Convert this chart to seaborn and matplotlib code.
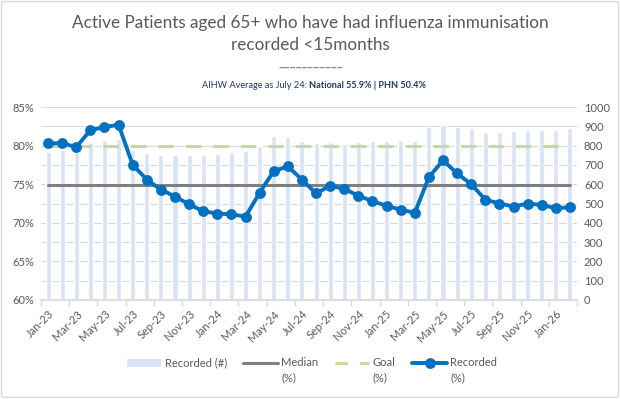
import matplotlib
matplotlib.use("Agg")
import matplotlib.pyplot as plt
import seaborn as sns
import numpy as np
import pandas as pd
from matplotlib.lines import Line2D
from matplotlib.patches import Patch, FancyBboxPatch

# ---------------- data ----------------
months = ["Jan-23", "Feb-23", "Mar-23", "Apr-23", "May-23", "Jun-23", "Jul-23", "Aug-23",
          "Sep-23", "Oct-23", "Nov-23", "Dec-23", "Jan-24", "Feb-24", "Mar-24", "Apr-24",
          "May-24", "Jun-24", "Jul-24", "Aug-24", "Sep-24", "Oct-24", "Nov-24", "Dec-24",
          "Jan-25", "Feb-25", "Mar-25", "Apr-25", "May-25", "Jun-25", "Jul-25", "Aug-25",
          "Sep-25", "Oct-25", "Nov-25", "Dec-25", "Jan-26", "Feb-26"]
recorded_pct = [80.3, 80.3, 79.8, 82.0, 82.4, 82.7, 77.5, 75.6, 74.3, 73.4, 72.4, 71.5,
                71.2, 71.1, 70.8, 73.9, 76.7, 77.3, 75.6, 73.8, 74.8, 74.4, 73.5, 72.8,
                72.2, 71.7, 71.3, 75.9, 78.1, 76.4, 75.0, 73.0, 72.5, 72.1, 72.5, 72.3,
                71.9, 72.0]
recorded_num = [765, 776, 790, 817, 828, 836, 779, 760, 750, 750, 750, 750,
                755, 765, 770, 797, 849, 843, 823, 812, 817, 810, 817, 823,
                823, 831, 826, 896, 906, 896, 889, 870, 870, 875, 880, 883,
                883, 890]
median_pct = 74.9
goal_pct = 80.0
left_ticks = [60, 65, 70, 75, 80, 85]
right_ticks = [0, 100, 200, 300, 400, 500, 600, 700, 800, 900, 1000]

title_l1 = "Active Patients aged 65+ who have had influenza immunisation"
title_l2 = "recorded <15months"
sub_normal = "AIHW Average as July 24: "
sub_bold = "National 55.9% | PHN 50.4%"
legend_main = ["Recorded (#)", "Median", "Goal", "Recorded"]
legend_unit = "(%)"

# ---------------- style ----------------
sns.set_theme(style="white")
plt.rcParams["font.family"] = ["Lato", "DejaVu Sans"]

BAR_C = "#DAE3F3"
LINE_C = "#0070C0"
MED_C = "#7F7F7F"
GOAL_C = "#C5D9A0"
TXT_C = "#595959"
GRID_C = "#D9D9D9"

fig = plt.figure(figsize=(6.2, 3.99), dpi=100)
W, H = 620, 399

ax = fig.add_axes([41 / W, 1 - 300 / H, (577 - 41) / W, (300 - 107) / H])
ax2 = ax.twinx()

n = len(months)
idx = np.arange(n)
df = pd.DataFrame({"idx": idx, "month": months, "pct": recorded_pct, "num": recorded_num,
                   "median": [median_pct] * n, "goal": [goal_pct] * n})

# bars on primary axis (drawn behind), right-side ticks
sns.barplot(data=df, x="idx", y="num", ax=ax, color=BAR_C, width=0.36,
            saturation=1, native_scale=True, zorder=2)
ax.set_ylim(0, 1000)
ax.set_yticks(right_ticks)
ax.yaxis.tick_right()
ax.yaxis.set_label_position("right")
ax.grid(axis="y", color=GRID_C, linewidth=0.8, zorder=0)
ax.set_axisbelow(True)

# lines on secondary axis, left-side ticks
sns.lineplot(data=df, x="idx", y="median", ax=ax2, color=MED_C, linewidth=2.2, zorder=3)
sns.lineplot(data=df, x="idx", y="goal", ax=ax2, color=GOAL_C, linewidth=2.2, zorder=3)
ax2.lines[-1].set_dashes([5, 4])
sns.lineplot(data=df, x="idx", y="pct", ax=ax2, color=LINE_C, linewidth=2.8,
             marker="o", markersize=7.8, markeredgewidth=0, zorder=4)
ax2.set_ylim(60, 85)
ax2.set_yticks(left_ticks)
ax2.set_yticklabels([f"{t}%" for t in left_ticks])
ax2.yaxis.tick_left()
ax2.yaxis.set_label_position("left")

for a in (ax, ax2):
    a.set_xlabel("")
    a.set_ylabel("")
    for s in ("top", "left", "right"):
        a.spines[s].set_visible(False)
    a.spines["bottom"].set_color(GRID_C)
    a.tick_params(axis="y", length=0, labelsize=8, labelcolor=TXT_C, pad=5)
ax2.spines["bottom"].set_visible(False)

# x ticks: labels every 2 months, tick marks between categories
ax.set_xticks(idx[::2])
ax.set_xticklabels(months[::2], rotation=45, ha="right", rotation_mode="anchor")
ax.set_xticks(np.arange(-0.5, n, 2), minor=True)
ax.tick_params(axis="x", which="major", length=0, labelsize=8, labelcolor=TXT_C, pad=6)
ax.tick_params(axis="x", which="minor", length=4, color=GRID_C, bottom=True)
ax.set_xlim(-0.5, n - 0.5)

# ---------------- titles ----------------
fig.text(0.5, 1 - 22.7 / H, title_l1, ha="center", va="center", fontsize=12.3, color=TXT_C)
fig.text(0.5, 1 - 45 / H, title_l2, ha="center", va="center", fontsize=12.3, color=TXT_C)
fig.text(0.502, 1 - 62 / H, "___________", ha="center", va="center",
         fontsize=9, color="#7FA33A", fontweight="bold")

fig.canvas.draw()
r = fig.canvas.get_renderer()
SUB_C = "#1F3864"
t1 = fig.text(0, 1 - 86 / H, sub_normal, ha="left", va="center", fontsize=6.6, color=SUB_C)
t2 = fig.text(0, 1 - 86 / H, sub_bold, ha="left", va="center", fontsize=6.6,
              color=SUB_C, fontweight="bold")
w1 = t1.get_window_extent(r).width
w2 = t2.get_window_extent(r).width
x0 = (W * 0.5065 - (w1 + w2) / 2)
t1.set_x(x0 / W)
t2.set_x((x0 + w1) / W)

# ---------------- legend ----------------
handles = [Patch(facecolor=BAR_C, edgecolor="none"),
           Line2D([], [], color=MED_C, linewidth=2.2),
           Line2D([], [], color=GOAL_C, linewidth=2.2, dashes=[4, 4]),
           Line2D([], [], color=LINE_C, linewidth=2.8, marker="o", markersize=7.8,
                  markeredgewidth=0)]
leg = fig.legend(handles, legend_main, loc="center", bbox_to_anchor=(0.503, 1 - 363 / H),
                 ncol=4, frameon=False, fontsize=8, labelcolor=TXT_C,
                 handlelength=3.1, handletextpad=0.3, columnspacing=1.5)
fig.canvas.draw()
for t in leg.get_texts()[1:]:
    bb = t.get_window_extent(r)
    fig.text(bb.x0 / W, (bb.y0 + bb.y1) / 2 / H - 14.5 / H, legend_unit,
             ha="left", va="center", fontsize=8, color=TXT_C)

# figure border
fig.patches.append(FancyBboxPatch((1.5 / W, 1.5 / H), 1 - 3 / W, 1 - 3 / H,
                                  boxstyle="round,pad=0,rounding_size=0.005",
                                  transform=fig.transFigure, fill=False,
                                  edgecolor="#D9D9D9", linewidth=1))

fig.savefig("out.png", dpi=100)
